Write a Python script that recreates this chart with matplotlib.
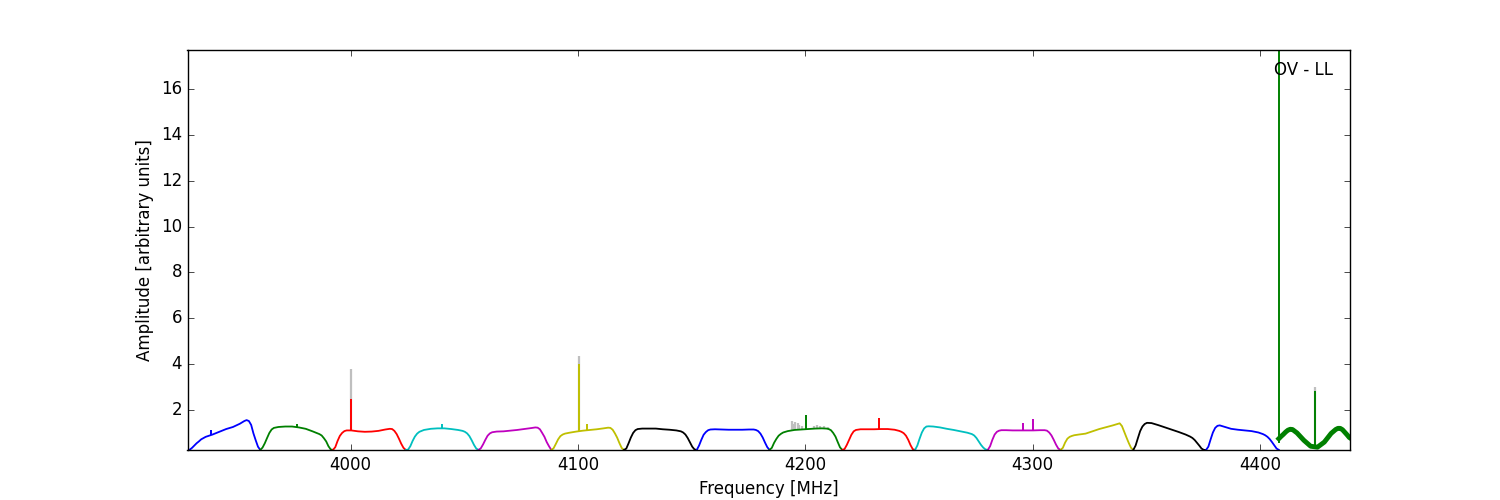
import numpy as np
import matplotlib
matplotlib.use('Agg')
import matplotlib.pyplot as plt

# start frequency of each spectral window [MHz]
win_start = [3928.3, 3960.3, 3992.3, 4024.3, 4056.3, 4088.3, 4120.3, 4152.3,
             4184.3, 4216.3, 4248.3, 4280.3, 4312.3, 4344.3, 4376.3, 4408.3]

# sample positions inside a window [MHz from window start]
offsets = [0, 1, 2, 3, 4, 5, 6, 8, 11, 14, 17, 20, 23, 25, 26, 27, 28, 29, 30, 31, 32]

# bandpass amplitude per window, read at the offsets above
amps = [
    [0.26, 0.27, 0.35, 0.45, 0.55, 0.63, 0.72, 0.83, 0.93, 1.05, 1.17, 1.26, 1.40, 1.52, 1.56, 1.52, 1.35, 0.98, 0.68, 0.40, 0.26],
    [0.26, 0.36, 0.55, 0.78, 1.00, 1.15, 1.22, 1.26, 1.28, 1.28, 1.24, 1.18, 1.07, 0.99, 0.95, 0.89, 0.77, 0.63, 0.42, 0.28, 0.26],
    [0.26, 0.38, 0.65, 0.87, 1.00, 1.08, 1.11, 1.11, 1.07, 1.05, 1.06, 1.09, 1.15, 1.18, 1.17, 1.09, 0.95, 0.75, 0.53, 0.35, 0.26],
    [0.26, 0.27, 0.42, 0.65, 0.84, 0.97, 1.05, 1.13, 1.18, 1.20, 1.20, 1.17, 1.13, 1.09, 1.05, 0.98, 0.86, 0.68, 0.48, 0.32, 0.26],
    [0.26, 0.33, 0.50, 0.70, 0.88, 0.98, 1.03, 1.06, 1.07, 1.10, 1.13, 1.17, 1.21, 1.24, 1.23, 1.16, 1.00, 0.83, 0.60, 0.42, 0.26],
    [0.26, 0.33, 0.52, 0.72, 0.86, 0.93, 0.97, 1.01, 1.06, 1.10, 1.13, 1.16, 1.20, 1.23, 1.22, 1.14, 0.98, 0.79, 0.55, 0.34, 0.26],
    [0.26, 0.32, 0.55, 0.80, 1.00, 1.12, 1.17, 1.19, 1.19, 1.19, 1.16, 1.14, 1.11, 1.07, 1.02, 0.93, 0.78, 0.59, 0.40, 0.28, 0.26],
    [0.26, 0.45, 0.70, 0.92, 1.04, 1.12, 1.15, 1.16, 1.15, 1.14, 1.14, 1.14, 1.15, 1.15, 1.13, 1.08, 0.97, 0.80, 0.58, 0.38, 0.26],
    [0.26, 0.35, 0.57, 0.74, 0.88, 0.96, 1.02, 1.08, 1.13, 1.15, 1.17, 1.19, 1.20, 1.19, 1.17, 1.12, 1.00, 0.84, 0.60, 0.37, 0.26],
    [0.26, 0.30, 0.48, 0.70, 0.92, 1.07, 1.13, 1.16, 1.16, 1.16, 1.17, 1.17, 1.14, 1.09, 1.05, 0.99, 0.88, 0.70, 0.47, 0.29, 0.26],
    [0.26, 0.45, 0.75, 1.02, 1.20, 1.28, 1.29, 1.28, 1.24, 1.18, 1.13, 1.07, 1.01, 0.95, 0.89, 0.78, 0.63, 0.48, 0.36, 0.28, 0.26],
    [0.26, 0.42, 0.70, 0.93, 1.05, 1.10, 1.12, 1.12, 1.11, 1.11, 1.11, 1.11, 1.12, 1.12, 1.10, 1.02, 0.89, 0.70, 0.49, 0.32, 0.26],
    [0.26, 0.35, 0.58, 0.75, 0.83, 0.87, 0.90, 0.93, 0.97, 1.07, 1.17, 1.25, 1.33, 1.39, 1.42, 1.30, 1.05, 0.80, 0.56, 0.35, 0.26],
    [0.26, 0.45, 0.77, 1.08, 1.28, 1.39, 1.44, 1.43, 1.34, 1.24, 1.14, 1.04, 0.93, 0.84, 0.78, 0.69, 0.57, 0.45, 0.32, 0.26, 0.26],
    [0.26, 0.40, 0.72, 1.02, 1.22, 1.31, 1.33, 1.27, 1.18, 1.14, 1.11, 1.08, 1.02, 0.95, 0.90, 0.83, 0.73, 0.60, 0.46, 0.32, 0.26],
    [0.75, 0.85, 0.94, 1.04, 1.12, 1.16, 1.15, 1.00, 0.68, 0.42, 0.38, 0.60, 0.98, 1.15, 1.20, 1.20, 1.14, 1.03, 0.92, 0.80, 0.74],
]

# narrow lines (after flagging) drawn in the window colour
spike_freq = [3938.6, 3976.4, 4000.2, 4040.3, 4100.4, 4104.1, 4168.5, 4200.3,
              4232.3, 4295.9, 4300.0, 4408.4, 4424.1]
spike_base = [0.92, 1.26, 1.11, 1.20, 1.07, 1.11, 1.14, 1.16,
              1.16, 1.11, 1.11, 0.55, 0.40]
spike_top = [1.11, 1.37, 2.49, 1.37, 3.99, 1.37, 1.17, 1.80,
             1.66, 1.42, 1.59, 17.7, 2.83]
spike_win = [0, 1, 2, 3, 5, 5, 7, 8, 9, 11, 11, 15, 15]

# raw (unflagged) data, shown in grey behind
raw_freq = [4000.2, 4100.4, 4424.1, 4194.2, 4194.9, 4195.6, 4196.6, 4197.4,
            4198.5, 4203.7, 4205.1, 4206.6, 4208.2, 4209.8]
raw_base = [1.11, 1.07, 0.40, 1.12, 1.12, 1.12, 1.13, 1.13,
            1.14, 1.17, 1.17, 1.18, 1.18, 1.19]
raw_top = [3.77, 4.35, 3.02, 1.52, 1.37, 1.48, 1.42, 1.35,
           1.30, 1.30, 1.33, 1.30, 1.30, 1.28]

colors = ['b', 'g', 'r', 'c', 'm', 'y', 'k']

plt.style.use('classic')
fig = plt.figure(figsize=(15, 5), dpi=100, facecolor='white')
ax = fig.add_subplot(111)

ax.vlines(raw_freq, raw_base, raw_top, colors='0.75', linewidth=1.6)

for i, start in enumerate(win_start):
    freq = start + np.array(offsets)
    lw = 3.5 if i == len(win_start) - 1 else 1.3
    ax.plot(freq, amps[i], color=colors[i % 7], linewidth=lw)

for f, b, t, w in zip(spike_freq, spike_base, spike_top, spike_win):
    ax.vlines(f, b, t, colors=colors[w % 7], linewidth=1.4)

ax.text(0.935, 0.949, 'OV - LL', transform=ax.transAxes, va='center', ha='left')

ax.set_xlim(3928.3, 4439.6)
ax.set_ylim(0.256, 17.7)
ax.set_xticks([4000, 4100, 4200, 4300, 4400])
ax.set_yticks([2, 4, 6, 8, 10, 12, 14, 16])
ax.set_xlabel('Frequency [MHz]')
ax.set_ylabel('Amplitude [arbitrary units]')

fig.savefig('out.png', dpi=100, facecolor='white')
